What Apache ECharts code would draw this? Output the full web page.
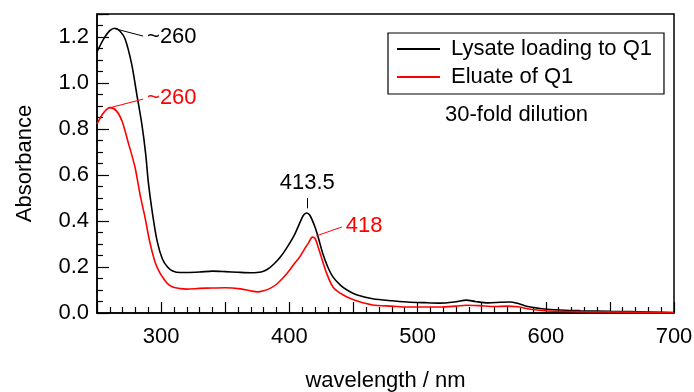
<!DOCTYPE html>
<html>
<head>
<meta charset="utf-8">
<script src="https://cdn.jsdelivr.net/npm/echarts@6/dist/echarts.min.js"></script>
<style>html,body{margin:0;padding:0;background:#fff}#c{width:694px;height:392px}</style>
</head>
<body>
<div id="c"></div>
<script>
// ---- data ----
const seriesNames = ['Lysate loading to Q1', 'Eluate of Q1'];
const lysateWl  = [250,255,260,264,268,272,277,281,285,288,290,293,297,301,305,309,315,320,330,340,350,360,370,378,383,388,393,398,404,408,411,413.5,416,420,423,426,430,434,440,445,453,465,480,492,505,517,530,538,545,555,565,572,578,583,588,595,601,615,627,650,666,700];
const lysateAbs = [1.135,1.19,1.228,1.238,1.225,1.19,1.083,0.952,0.82,0.69,0.57,0.443,0.31,0.235,0.2,0.183,0.176,0.176,0.178,0.182,0.18,0.177,0.175,0.178,0.19,0.213,0.243,0.283,0.34,0.39,0.425,0.435,0.425,0.374,0.32,0.26,0.2,0.157,0.12,0.1,0.078,0.062,0.053,0.048,0.045,0.043,0.049,0.056,0.05,0.044,0.047,0.048,0.042,0.033,0.026,0.02,0.016,0.012,0.01,0.007,0.006,0.002];
const eluateWl  = [250,255,260,265,269.5,274,279.6,283.5,287.4,291,295,298,301,305,309,315,320,330,340,350,362,370,375,380,385,390,395,400,404,408,412,415,418,420,422,424,429,434,440,445,453,465,480,492,505,517,530,538,548,560,570,578,583,588,595,601,627,666,700];
const eluateAbs = [0.822,0.87,0.893,0.88,0.835,0.748,0.635,0.517,0.417,0.313,0.226,0.185,0.157,0.128,0.113,0.106,0.104,0.107,0.109,0.11,0.105,0.096,0.092,0.097,0.107,0.125,0.152,0.185,0.215,0.243,0.28,0.305,0.33,0.325,0.295,0.26,0.174,0.113,0.085,0.07,0.052,0.035,0.03,0.026,0.026,0.026,0.03,0.034,0.032,0.028,0.03,0.027,0.022,0.016,0.012,0.009,0.006,0.004,0.001];
const xTicks = [300,400,500,600,700];
const peakLabels = ['~260', '~260', '413.5', '418'];
const noteText = '30-fold dilution';

const FONT = '"Liberation Sans", Arial, sans-serif';
const pairs = (xs, ys) => xs.map((x, i) => [x, ys[i]]);

const chart = echarts.init(document.getElementById('c'), null, {renderer: 'canvas'});
const leader = (a, b, text, color) => [
  {coord: a, lineStyle: {color: color, width: 1, type: 'solid'}, label: {show: true, position: 'end', formatter: text, color: color, fontSize: 22, fontFamily: FONT, distance: 4}},
  {coord: b}
];
chart.setOption({
  animation: false,
  backgroundColor: '#fff',
  grid: {left: 97, right: 20, top: 14, bottom: 79, show: true, borderColor: '#000', borderWidth: 1.5, containLabel: false, outerBoundsMode: 'none'},
  legend: {
    data: seriesNames,
    orient: 'vertical', left: 388, top: 33,
    borderColor: '#000', borderWidth: 1.2, padding: [5, 12, 6, 9],
    itemGap: 6, itemWidth: 43, itemHeight: 2, icon: 'rect',
    textStyle: {fontSize: 22, fontFamily: FONT, color: '#000', padding: [0, 0, 0, 6]}
  },
  xAxis: {
    type: 'value', min: 250, max: 700, interval: 50,
    name: 'wavelength / nm', nameLocation: 'middle', nameGap: 57,
    nameTextStyle: {fontSize: 22, fontFamily: FONT, color: '#000'},
    axisLine: {lineStyle: {color: '#000', width: 1.5}},
    axisTick: {inside: true, length: 11, lineStyle: {color: '#000', width: 1.2}},
    minorTick: {show: true, splitNumber: 5, length: 6, lineStyle: {color: '#000', width: 1.2}},
    splitLine: {show: false},
    axisLabel: {fontSize: 22, fontFamily: FONT, color: '#000', margin: 13,
      formatter: v => xTicks.includes(v) ? String(v) : ''}
  },
  yAxis: {
    type: 'value', min: 0, max: 1.3, interval: 0.2,
    name: 'Absorbance', nameLocation: 'middle', nameGap: 61, nameRotate: 90,
    nameTextStyle: {fontSize: 22, fontFamily: FONT, color: '#000'},
    axisLine: {lineStyle: {color: '#000', width: 1.5}},
    axisTick: {inside: true, length: 12, lineStyle: {color: '#000', width: 1.2}},
    minorTick: {show: true, splitNumber: 4, length: 6, lineStyle: {color: '#000', width: 1.2}},
    splitLine: {show: false},
    axisLabel: {fontSize: 22, fontFamily: FONT, color: '#000', margin: 8, showMaxLabel: false,
      formatter: v => v.toFixed(1)}
  },
  graphic: [{type: 'text', left: 445, top: 104, style: {text: noteText, fontSize: 22, fontFamily: FONT, fill: '#000'}}],
  series: [
    {
      name: seriesNames[0], type: 'line', data: pairs(lysateWl, lysateAbs),
      showSymbol: false, symbol: 'none', smooth: 0.3, color: '#000',
      lineStyle: {color: '#000', width: 1.6},
      markLine: {silent: true, symbol: ['none', 'none'], animation: false,
        data: [leader([264, 1.236], [286, 1.204], peakLabels[0], '#000'),
               leader([414, 0.455], [414, 0.5], peakLabels[2], '#000')]}
    },
    {
      name: seriesNames[1], type: 'line', data: pairs(eluateWl, eluateAbs),
      showSymbol: false, symbol: 'none', smooth: 0.3, color: '#ff0000',
      lineStyle: {color: '#ff0000', width: 1.6},
      markLine: {silent: true, symbol: ['none', 'none'], animation: false,
        data: [leader([260.5, 0.893], [286, 0.93], peakLabels[1], '#ff0000'),
               leader([421, 0.335], [441, 0.374], peakLabels[3], '#ff0000')]}
    }
  ]
});
</script>
</body>
</html>
